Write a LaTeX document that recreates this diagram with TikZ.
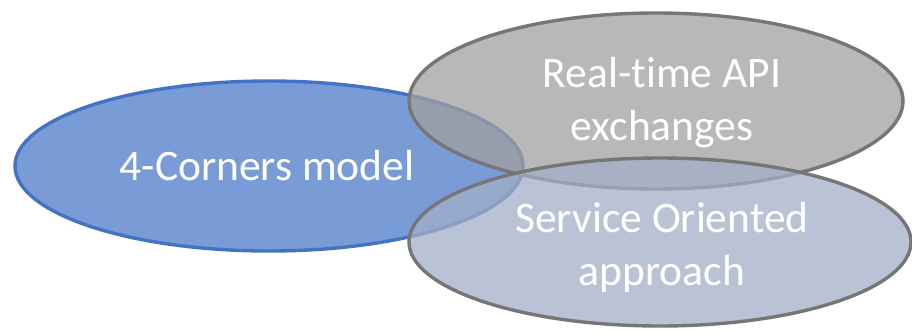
\documentclass[tikz,border=0pt]{standalone}
\usepackage{fontspec}
\setmainfont{Carlito}[Ligatures=NoCommon]
\definecolor{blueline}{RGB}{68,114,196}
\definecolor{bluefill}{RGB}{122,156,214}
\definecolor{grayline}{RGB}{118,118,118}
\definecolor{grayfill}{RGB}{160,160,160}
\definecolor{lightfill}{RGB}{163,175,200}
\begin{document}
\begin{tikzpicture}[x=1pt,y=-1pt,
  lbl/.style={text=white, align=center, font=\fontsize{43.5}{53}\selectfont}]
\useasboundingbox (0,0) rectangle (912,330);
\draw[blueline, fill=bluefill, line width=3.4pt] (269,166) ellipse [x radius=254, y radius=85];
\draw[grayline, fill=grayfill, fill opacity=0.75, line width=3.4pt] (656,101) ellipse [x radius=247, y radius=88];
\draw[grayline, fill=lightfill, fill opacity=0.75, line width=3.4pt] (660,242) ellipse [x radius=251, y radius=84];
\node[lbl, anchor=base] (corners) at (267,180) {4-Corners model};
\node[lbl] (api) at (662,103) {Real-time API\\exchanges};
\node[lbl] (soa) at (662,247) {Service Oriented\\approach};
\end{tikzpicture}
\end{document}
